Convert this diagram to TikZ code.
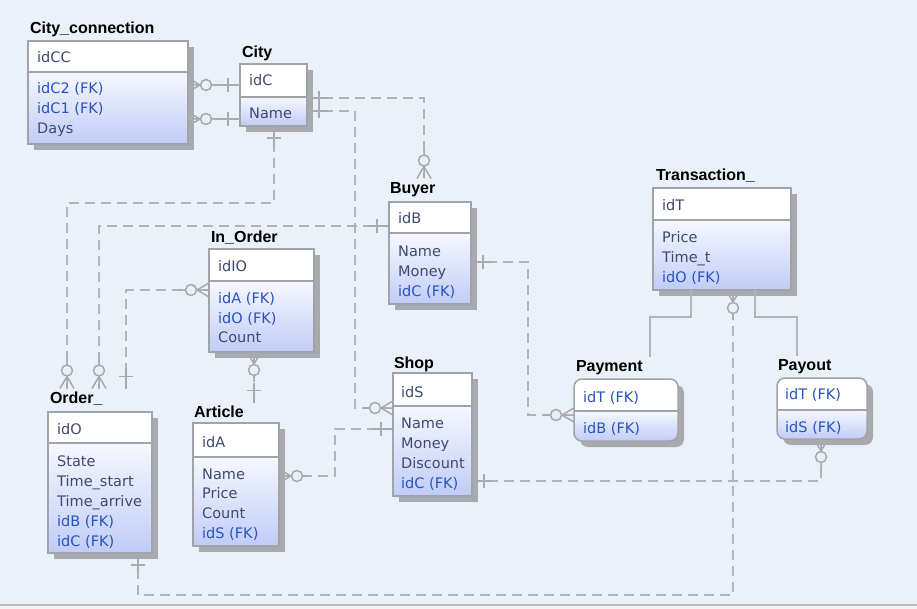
\documentclass[tikz,border=0pt]{standalone}
\usepackage{fontspec}
\setmainfont{DejaVu Sans}
\newfontfamily\titlefont{Liberation Sans}
\usetikzlibrary{shadows}
\definecolor{bg}{RGB}{234,241,248}
\definecolor{bordc}{RGB}{160,164,170}
\definecolor{shadc}{RGB}{168,170,174}
\definecolor{bodytop}{RGB}{246,248,255}
\definecolor{bodybot}{RGB}{192,204,246}
\definecolor{attrc}{RGB}{62,74,110}
\definecolor{fkc}{RGB}{40,84,192}
\definecolor{linec}{RGB}{178,180,184}
\definecolor{markc}{RGB}{168,170,174}
\tikzset{
 ent/.style={draw=bordc, line width=1.5pt, fill=white, anchor=north west, inner sep=0pt, outer sep=0pt,
   drop shadow={shadow xshift=6pt, shadow yshift=-6pt, fill=shadc, opacity=1}},
 hdr/.style={path picture={
   \fill[white] (path picture bounding box.north west) rectangle ([yshift=-#1]path picture bounding box.north east);
   \shade[top color=bodytop, bottom color=bodybot] ([yshift=-#1]path picture bounding box.north west) rectangle (path picture bounding box.south east);
   \draw[bordc, line width=1.5pt] ([yshift=-#1]path picture bounding box.north west) -- ([yshift=-#1]path picture bounding box.north east);
 }},
 attr/.style={anchor=west, inner sep=0pt, text height=11pt, text depth=0pt, text=attrc, font=\fontsize{14.5}{17}\selectfont},
 fk/.style={attr, text=fkc},
 ttl/.style={anchor=west, inner sep=0pt, outer xsep=0pt, outer ysep=4pt, text height=11pt, text depth=0pt, text=black, font=\titlefont\bfseries\fontsize{16}{19}\selectfont},
 conn/.style={draw=linec, line width=1.8pt, dash pattern=on 10pt off 6pt},
 sub/.style={draw=linec, line width=1.8pt},
 one/.pic={\draw[markc, line width=1.5pt] (0pt,0pt) -- (20pt,0pt) (12pt,-7pt) -- (12pt,7pt);},
 zmany/.pic={\draw[markc, line width=1.5pt] (0pt,-7pt) -- (12pt,0pt) -- (0pt,7pt) (0pt,0pt) -- (12.5pt,0pt) (23.5pt,0pt) -- (30pt,0pt);
   \filldraw[markc, fill=bg, line width=1.5pt] (18pt,0pt) circle (5.5pt);}
}
\begin{document}
\begin{tikzpicture}[x=1pt,y=-1pt]
\useasboundingbox (0,0) rectangle (917,609);
\fill[bg] (0,0) rectangle (917,609);
\fill[white!92!gray] (0,605) rectangle (917,609);
\draw[gray!55, line width=1.2pt] (0,605) -- (917,605);

% City_connection
\node[ttl] (ccT) at (30,28) {City\_connection};
\node[ent, hdr=31pt, minimum width=160pt, minimum height=103pt] (cc) at (28,41) {};
\node[attr] (cc0) at (37,57) {idCC};
\node[fk] (cc1) at (37,88) {idC2 (FK)};
\node[fk] (cc2) at (37,108) {idC1 (FK)};
\node[attr] (cc3) at (37,128) {Days};

% City
\node[ttl] (cityT) at (242,52) {City};
\node[ent, hdr=33pt, minimum width=67pt, minimum height=62pt] (city) at (240,64) {};
\node[attr] (city0) at (249,80) {idC};
\node[attr] (city1) at (249,113) {Name};

% Buyer
\node[ttl] (buyT) at (390,188) {Buyer};
\node[ent, hdr=31pt, minimum width=82pt, minimum height=102pt] (buyer) at (389,202) {};
\node[attr] (buy0) at (398,218) {idB};
\node[attr] (buy1) at (398,251) {Name};
\node[attr] (buy2) at (398,271) {Money};
\node[fk] (buy3) at (398,291) {idC (FK)};

% In_Order
\node[ttl] (ioT) at (211,237) {In\_Order};
\node[ent, hdr=32pt, minimum width=105pt, minimum height=103pt] (io) at (209,249) {};
\node[attr] (io0) at (218,266) {idIO};
\node[fk] (io1) at (218,298) {idA (FK)};
\node[fk] (io2) at (218,318) {idO (FK)};
\node[attr] (io3) at (218,337) {Count};

% Order_
\node[ttl] (ordT) at (50,398) {Order\_};
\node[ent, hdr=31pt, minimum width=104pt, minimum height=141pt] (ord) at (48,412) {};
\node[attr] (ord0) at (57,429) {idO};
\node[attr] (ord1) at (57,461) {State};
\node[attr] (ord2) at (57,481) {Time\_start};
\node[attr] (ord3) at (57,501) {Time\_arrive};
\node[fk] (ord4) at (57,521) {idB (FK)};
\node[fk] (ord5) at (57,541) {idC (FK)};

% Article
\node[ttl] (artT) at (194,412) {Article};
\node[ent, hdr=34pt, minimum width=86pt, minimum height=123pt] (art) at (193,423) {};
\node[attr] (art0) at (202,442) {idA};
\node[attr] (art1) at (202,474) {Name};
\node[attr] (art2) at (202,493) {Price};
\node[attr] (art3) at (202,513) {Count};
\node[fk] (art4) at (202,533) {idS (FK)};

% Shop
\node[ttl] (shopT) at (394,363) {Shop};
\node[ent, hdr=33pt, minimum width=79pt, minimum height=123pt] (shop) at (393,373) {};
\node[attr] (shop0) at (401,392) {idS};
\node[attr] (shop1) at (401,423) {Name};
\node[attr] (shop2) at (401,443) {Money};
\node[attr] (shop3) at (401,463) {Discount};
\node[fk] (shop4) at (401,483) {idC (FK)};

% Transaction_
\node[ttl] (trT) at (656,175) {Transaction\_};
\node[ent, hdr=32pt, minimum width=138pt, minimum height=102pt] (tr) at (653,188) {};
\node[attr] (tr0) at (662,205) {idT};
\node[attr] (tr1) at (662,237) {Price};
\node[attr] (tr2) at (662,257) {Time\_t};
\node[fk] (tr3) at (662,277) {idO (FK)};

% Payment
\node[ttl] (payT) at (576,366) {Payment};
\node[ent, hdr=32pt, rounded corners=8pt, minimum width=104pt, minimum height=62pt] (pay) at (574,379) {};
\node[fk] (pay0) at (583,397) {idT (FK)};
\node[fk] (pay1) at (583,428) {idB (FK)};

% Payout
\node[ttl] (poT) at (778,365) {Payout};
\node[ent, hdr=32pt, rounded corners=8pt, minimum width=90pt, minimum height=61pt] (po) at (777,378) {};
\node[fk] (po0) at (785,394) {idT (FK)};
\node[fk] (po1) at (785,427) {idS (FK)};

% connectors
\draw[conn] (city.west |- 0,85) -- (cc.east |- 0,85);
\draw[conn] (city.west |- 0,119) -- (cc.east |- 0,119);
\draw[conn] (city.south -| 274,0) -- (274,203) -- (67,203) -- (ordT.north -| 67,0);
\draw[conn] (buyer.west |- 0,226) -- (99,226) -- (ordT.north -| 99,0);
\draw[conn] (ordT.north -| 126,0) -- (126,290) -- (io.west |- 0,290);
\draw[conn] (io.south -| 254,0) -- (artT.north -| 254,0);
\draw[conn] (city.east |- 0,98) -- (424,98) -- (buyT.north -| 424,0);
\draw[conn] (city.east |- 0,111) -- (355,111) -- (355,408) -- (shop.west |- 0,408);
\draw[conn] (buyer.east |- 0,262) -- (528,262) -- (528,415) -- (pay.west |- 0,415);
\draw[conn] (shop.west |- 0,429) -- (335,429) -- (335,476) -- (art.east |- 0,476);
\draw[conn] (shop.east |- 0,481) -- (821,481) -- (po.south -| 821,0);
\draw[conn] (ord.south -| 138,0) -- (138,595) -- (733,595) -- (tr.south -| 733,0);
\draw[sub] (tr.south -| 691,0) -- (691,317) -- (650,317) -- (payT.north -| 650,0);
\draw[sub] (tr.south -| 755,0) -- (755,317) -- (797,317) -- (poT.north -| 797,0);

% markers
\pic[rotate=180] at (city.west |- 0,85) {one};
\pic at (cc.east |- 0,85) {zmany};
\pic[rotate=180] at (city.west |- 0,119) {one};
\pic at (cc.east |- 0,119) {zmany};
\pic[rotate=-90] at (city.south -| 274,0) {one};
\pic[rotate=90] at (ordT.north -| 67,0) {zmany};
\pic[rotate=180] at (buyer.west |- 0,226) {one};
\pic[rotate=90] at (ordT.north -| 99,0) {zmany};
\pic[rotate=90] at (ordT.north -| 126,0) {one};
\pic[rotate=180] at (io.west |- 0,290) {zmany};
\pic[rotate=-90] at (io.south -| 254,0) {zmany};
\pic[rotate=90] at (artT.north -| 254,0) {one};
\pic at (city.east |- 0,98) {one};
\pic[rotate=90] at (buyT.north -| 424,0) {zmany};
\pic at (city.east |- 0,111) {one};
\pic[rotate=180] at (shop.west |- 0,408) {zmany};
\pic at (buyer.east |- 0,262) {one};
\pic[rotate=180] at (pay.west |- 0,415) {zmany};
\pic[rotate=180] at (shop.west |- 0,429) {one};
\pic at (art.east |- 0,476) {zmany};
\pic at (shop.east |- 0,481) {one};
\pic[rotate=-90] at (po.south -| 821,0) {zmany};
\pic[rotate=-90] at (ord.south -| 138,0) {one};
\pic[rotate=-90] at (tr.south -| 733,0) {zmany};
\end{tikzpicture}
\end{document}
